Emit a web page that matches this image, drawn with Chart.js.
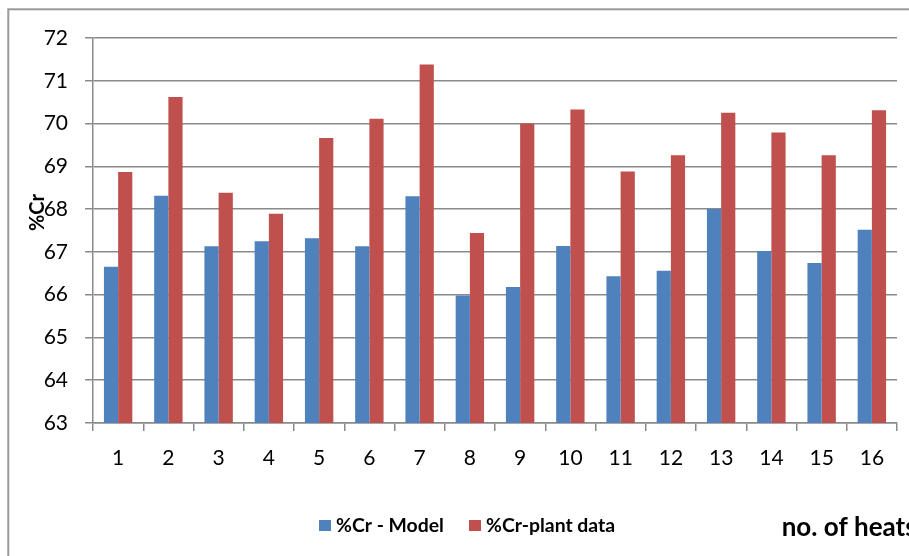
<!DOCTYPE html>
<html>
<head>
<meta charset="utf-8">
<script src="https://cdn.jsdelivr.net/npm/chart.js@4/dist/chart.umd.min.js"></script>
<style>
  html, body { margin: 0; padding: 0; background: #fff; }
  #wrap { position: relative; width: 909px; height: 556px; overflow: hidden; }
  canvas { display: block; }
</style>
</head>
<body>
<div id="wrap"><canvas id="c" width="909" height="556"></canvas></div>
<script>
const categories = ['1','2','3','4','5','6','7','8','9','10','11','12','13','14','15','16'];
const modelValues = [66.65, 68.31, 67.13, 67.25, 67.32, 67.13, 68.30, 65.98, 66.18, 67.14, 66.43, 66.56, 68.00, 67.02, 66.74, 67.52];
const plantValues = [68.87, 70.62, 68.38, 67.89, 69.66, 70.11, 71.38, 67.44, 70.00, 70.33, 68.88, 69.26, 70.25, 69.79, 69.26, 70.31];
const seriesNames = ['%Cr - Model', '%Cr-plant data'];
const seriesColors = ['#4F81BD', '#C0504D'];
const yTitle = '%Cr';
const xTitle = 'no. of heats';
const yMin = 63, yMax = 72, yStep = 1;

const GRID = '#8a8a8a';
const FONT = 'Lato';

const decorPlugin = {
  id: 'decor',
  beforeDraw(chart) {
    const ctx = chart.ctx;
    ctx.save();
    ctx.fillStyle = '#fff';
    ctx.fillRect(0, 0, chart.width, chart.height);
    ctx.strokeStyle = '#9a9a9a';
    ctx.lineWidth = 2;
    ctx.strokeRect(8.3, 9.3, 1200, 1200);
    ctx.restore();
  },
  afterDraw(chart) {
    const ctx = chart.ctx;
    ctx.save();
    ctx.fillStyle = '#000';
    ctx.font = 'bold 20px ' + FONT;
    ctx.textAlign = 'center';
    ctx.textBaseline = 'middle';
    ctx.translate(37.5, 212.5);
    ctx.rotate(-Math.PI / 2);
    ctx.fillText(yTitle, 0, 0);
    ctx.setTransform(1, 0, 0, 1, 0, 0);
    ctx.font = 'bold 19.4px ' + FONT;
    ctx.textAlign = 'left';
    ctx.textBaseline = 'alphabetic';
    const legendX = [319, 469];
    chart.data.datasets.forEach((ds, i) => {
      ctx.fillStyle = ds.backgroundColor;
      ctx.fillRect(legendX[i], 520, 12, 11);
      ctx.fillStyle = '#000';
      ctx.fillText(ds.label, legendX[i] + 17, 531.7);
    });
    ctx.font = 'bold 26px ' + FONT;
    ctx.fillText(xTitle, 781.7, 536);
    ctx.restore();
  }
};

new Chart(document.getElementById('c'), {
  type: 'bar',
  data: {
    labels: categories,
    datasets: [
      { label: seriesNames[0], data: modelValues, backgroundColor: seriesColors[0], borderWidth: 0 },
      { label: seriesNames[1], data: plantValues, backgroundColor: seriesColors[1], borderWidth: 0 }
    ]
  },
  options: {
    responsive: false,
    animation: false,
    devicePixelRatio: 1,
    datasets: { bar: { categoryPercentage: 0.565, barPercentage: 1.0 } },
    layout: { padding: { left: 0, right: 12, top: 38, bottom: 0 } },
    plugins: { legend: { display: false }, tooltip: { enabled: false }, title: { display: false } },
    scales: {
      x: {
        offset: true,
        grid: { offset: true, drawOnChartArea: false, drawTicks: true, tickLength: 8, color: GRID, lineWidth: 1.5 },
        border: { display: true, color: GRID, width: 1.5 },
        ticks: { color: '#000', font: { family: FONT, size: 21 }, padding: 15, maxRotation: 0, autoSkip: false },
        afterFit(scale) { scale.height = 133; }
      },
      y: {
        min: yMin, max: yMax,
        grid: { color: GRID, lineWidth: 1.5, tickLength: 8, drawTicks: true },
        border: { display: true, color: GRID, width: 1.5 },
        ticks: { stepSize: yStep, color: '#000', font: { family: FONT, size: 21 }, padding: 17 },
        afterFit(scale) { scale.width = 93; }
      }
    }
  },
  plugins: [decorPlugin]
});
</script>
</body>
</html>
